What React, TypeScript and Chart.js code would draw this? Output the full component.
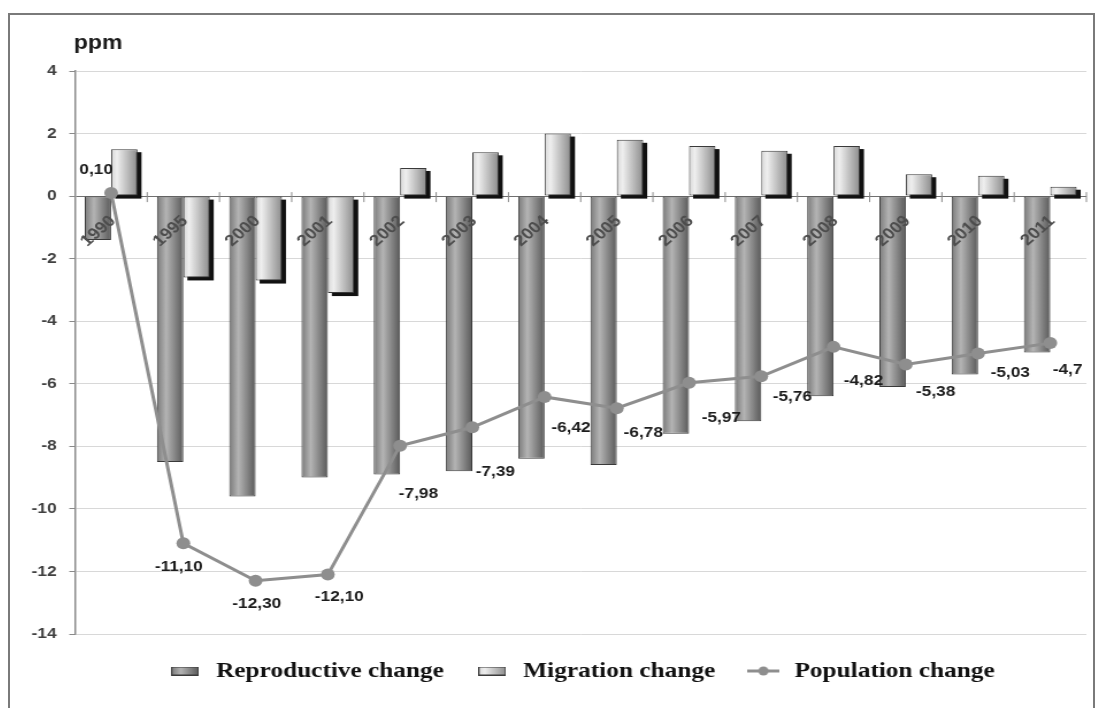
import React, { useEffect, useRef } from 'react';
import { Chart, registerables } from 'chart.js';

Chart.register(...registerables);

// ---- data -------------------------------------------------------------
const years = ['1990', '1995', '2000', '2001', '2002', '2003', '2004', '2005', '2006', '2007', '2008', '2009', '2010', '2011'];
const reproductiveChange = [-1.4, -8.5, -9.6, -9.0, -8.9, -8.8, -8.4, -8.6, -7.6, -7.2, -6.4, -6.1, -5.7, -5.0];
const migrationChange = [1.5, -2.6, -2.7, -3.1, 0.9, 1.4, 2.0, 1.8, 1.6, 1.45, 1.6, 0.7, 0.65, 0.3];
const populationChange = [0.1, -11.1, -12.3, -12.1, -7.98, -7.39, -6.42, -6.78, -5.97, -5.76, -4.82, -5.38, -5.03, -4.7];
const populationDecimals = [2, 2, 2, 2, 2, 2, 2, 2, 2, 2, 2, 2, 2, 1];
const seriesNames = ['Reproductive change', 'Migration change', 'Population change'];
const unitLabel = 'ppm';
const yMin = -14;
const yMax = 4;
const yStep = 2;

// ---- layout & style ---------------------------------------------------
const STRETCH_X = 1.15; // the drawing is widened horizontally
const CANVAS_W = 942;
const CANVAS_H = 690;
const Y_AXIS_W = 56.5;
const CATEGORY_PCT = 0.73;
const FONT_SANS = '"Liberation Sans", Arial, sans-serif';
const FONT_SERIF = '"Liberation Serif", "Times New Roman", serif';
const LINE_GREY = '#8e8e8e';
const reproStops: [number, string][] = [[0, '#7a7a7a'], [0.35, '#b4b4b4'], [1, '#595959']];
const migrStops: [number, string][] = [[0, '#d6d6d6'], [0.22, '#efefef'], [1, '#8c8c8c']];
const SHADOW_DX = 3.5;
const SHADOW_DY = 3;

// where each value label sits relative to its point (canvas px)
const valueLabelOffsets: [number, number][] = [
  [-13, -23], [-4, 24], [1, 23], [10, 22], [16, 48], [20, 45], [23, 31],
  [23, 25], [28, 35], [27, 21], [26, 34], [26, 27], [28, 19], [15, 27],
];

const fmt = (v: number, d: number) => v.toFixed(d).replace('.', ',');

function barFill(side: number, stops: [number, string][], fallback: string) {
  return (ctx: any) => {
    const chart = ctx.chart;
    const xs = chart.scales && chart.scales.x;
    if (!xs || ctx.dataIndex === undefined || !xs.width) return fallback;
    const center = xs.getPixelForValue(ctx.dataIndex);
    const size = (xs.width / years.length) * CATEGORY_PCT;
    const left = center - size / 2 + (side * size) / 2;
    const g = chart.ctx.createLinearGradient(left, 0, left + size / 2, 0);
    stops.forEach(([o, c]) => g.addColorStop(o, c));
    return g;
  };
}

function barIcon(stops: [number, string][]) {
  const c = document.createElement('canvas');
  c.width = 24;
  c.height = 9;
  const g = c.getContext('2d')!;
  const grad = g.createLinearGradient(0, 0, 24, 0);
  stops.forEach(([o, col]) => grad.addColorStop(o, col));
  g.fillStyle = grad;
  g.fillRect(0.5, 0.5, 23, 8);
  g.strokeStyle = '#3a3a3a';
  g.lineWidth = 1;
  g.strokeRect(0.5, 0.5, 23, 8);
  return c;
}

function lineIcon() {
  const c = document.createElement('canvas');
  c.width = 28;
  c.height = 12;
  const g = c.getContext('2d')!;
  g.strokeStyle = LINE_GREY;
  g.lineWidth = 3;
  g.beginPath();
  g.moveTo(0, 6);
  g.lineTo(28, 6);
  g.stroke();
  g.fillStyle = LINE_GREY;
  g.beginPath();
  g.arc(14, 6, 4.5, 0, Math.PI * 2);
  g.fill();
  return c;
}

const decorations = {
  id: 'decorations',
  beforeDatasetsDraw(chart: any) {
    // small marks on the zero line between categories
    const { ctx, chartArea, scales } = chart;
    const zy = scales.y.getPixelForValue(0);
    const step = scales.x.width / years.length;
    ctx.save();
    ctx.strokeStyle = '#8a8a8a';
    ctx.lineWidth = 1;
    for (let i = 1; i <= years.length; i++) {
      const px = chartArea.left + i * step;
      ctx.beginPath();
      ctx.moveTo(px, zy - 4);
      ctx.lineTo(px, zy + 6);
      ctx.stroke();
    }
    ctx.restore();
  },
  beforeDatasetDraw(chart: any, args: any) {
    const { ctx, scales } = chart;
    if (args.index === 1) {
      // hard drop shadow behind the migration bars
      ctx.save();
      ctx.fillStyle = '#111';
      args.meta.data.forEach((bar: any) => {
        const { x, y, base, width } = bar.getProps(['x', 'y', 'base', 'width'], true);
        const top = Math.min(y, base);
        const h = Math.abs(base - y);
        ctx.fillRect(x - width / 2 + SHADOW_DX, top + SHADOW_DY, width, h);
      });
      ctx.restore();
    }
    if (args.index === 2) {
      // slanted year labels just below the zero line
      const zy = scales.y.getPixelForValue(0);
      ctx.save();
      ctx.font = `bold 16px ${FONT_SANS}`;
      ctx.fillStyle = '#4d4d4d';
      ctx.textAlign = 'right';
      ctx.textBaseline = 'middle';
      years.forEach((yr, i) => {
        const px = scales.x.getPixelForValue(i);
        ctx.save();
        ctx.translate(px + 1.5, zy + 22.5);
        ctx.rotate(-Math.PI / 4);
        ctx.fillText(yr, 0, 0);
        ctx.restore();
      });
      ctx.restore();
    }
  },
  afterDatasetsDraw(chart: any) {
    const { ctx } = chart;
    const meta = chart.getDatasetMeta(2);
    ctx.save();
    ctx.font = `bold 15px ${FONT_SANS}`;
    ctx.fillStyle = '#1c1c1c';
    ctx.textAlign = 'center';
    ctx.textBaseline = 'middle';
    meta.data.forEach((pt: any, i: number) => {
      const [dx, dy] = valueLabelOffsets[i];
      ctx.fillText(fmt(populationChange[i], populationDecimals[i]), pt.x + dx, pt.y + dy);
    });
    ctx.restore();
  },
  afterDraw(chart: any) {
    const { ctx } = chart;
    ctx.save();
    ctx.font = `bold 20px ${FONT_SANS}`;
    ctx.fillStyle = '#1a1a1a';
    ctx.textAlign = 'left';
    ctx.textBaseline = 'alphabetic';
    ctx.fillText(unitLabel, chart.chartArea.left - 1, 34);
    ctx.restore();
  },
};

export default function App() {
  const canvasRef = useRef<HTMLCanvasElement | null>(null);

  useEffect(() => {
    const canvas = canvasRef.current;
    if (!canvas) return;
    const icons = [barIcon(reproStops), barIcon(migrStops), lineIcon()];

    const chart = new Chart(canvas, {
      type: 'bar',
      data: {
        labels: years,
        datasets: [
          {
            type: 'bar',
            label: seriesNames[0],
            data: reproductiveChange,
            order: 1,
            backgroundColor: barFill(0, reproStops, '#8f8f8f'),
            borderColor: '#3a3a3a',
            borderWidth: 1,
            borderSkipped: false,
            categoryPercentage: CATEGORY_PCT,
            barPercentage: 1,
          },
          {
            type: 'bar',
            label: seriesNames[1],
            data: migrationChange,
            order: 2,
            backgroundColor: barFill(1, migrStops, '#cfcfcf'),
            borderColor: '#3a3a3a',
            borderWidth: 1,
            borderSkipped: false,
            categoryPercentage: CATEGORY_PCT,
            barPercentage: 1,
          },
          {
            type: 'line',
            label: seriesNames[2],
            data: populationChange,
            order: 0,
            borderColor: LINE_GREY,
            backgroundColor: LINE_GREY,
            borderWidth: 3,
            pointRadius: 6,
            pointBackgroundColor: LINE_GREY,
            pointBorderWidth: 0,
            tension: 0,
          },
        ],
      } as any,
      options: {
        responsive: false,
        animation: false,
        events: [],
        layout: { padding: { left: 0, right: 3, top: 56, bottom: 13 } },
        scales: {
          x: { display: false, offset: true },
          y: {
            min: yMin,
            max: yMax,
            afterFit: (scale: any) => {
              scale.width = Y_AXIS_W;
            },
            ticks: {
              stepSize: yStep,
              color: '#404040',
              padding: 11,
              font: { family: FONT_SANS, size: 15, weight: 'bold' },
            },
            grid: {
              color: (c: any) => (c.tick && c.tick.value === 0 ? '#707070' : '#d8d8d8'),
              lineWidth: 1,
              tickLength: 5,
              tickColor: '#8a8a8a',
            },
            border: { color: '#8a8a8a', width: 1.5 },
          },
        },
        plugins: {
          tooltip: { enabled: false },
          legend: {
            position: 'bottom',
            fullSize: false,
            onClick: () => {},
            labels: {
              usePointStyle: true,
              pointStyleWidth: 32,
              padding: 26,
              color: '#111',
              font: { family: FONT_SERIF, size: 22, weight: 'bold' },
              sort: (a: any, b: any) => a.datasetIndex - b.datasetIndex,
              generateLabels: (ch: any) =>
                Chart.defaults.plugins.legend.labels
                  .generateLabels(ch)
                  .map((item: any) => ({ ...item, pointStyle: icons[item.datasetIndex], rotation: 0 })),
            },
          },
        },
      } as any,
      plugins: [decorations],
    });

    return () => chart.destroy();
  }, []);

  return (
    <div
      style={{
        position: 'fixed',
        left: 8,
        top: 13,
        width: 1087,
        height: 720,
        boxSizing: 'border-box',
        border: '2px solid #7a7a7a',
        background: '#ffffff',
        overflow: 'hidden',
      }}
    >
      <div style={{ position: 'absolute', left: 0, top: 0, transform: `scaleX(${STRETCH_X})`, transformOrigin: '0 0' }}>
        <canvas ref={canvasRef} width={CANVAS_W} height={CANVAS_H} style={{ display: 'block' }} />
      </div>
    </div>
  );
}
